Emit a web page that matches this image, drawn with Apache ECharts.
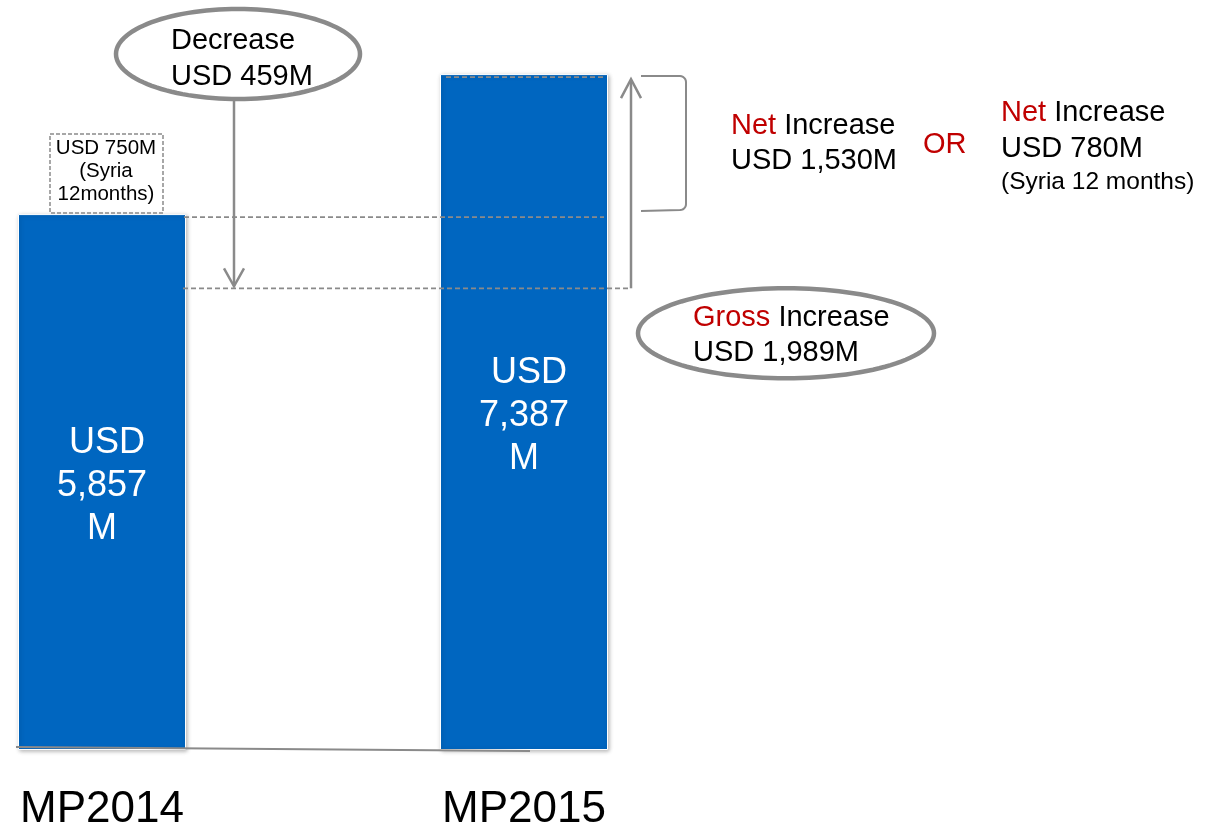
<!DOCTYPE html>
<html>
<head>
<meta charset="utf-8">
<script src="https://cdn.jsdelivr.net/npm/echarts@6/dist/echarts.min.js"></script>
<style>
  html, body { margin: 0; padding: 0; background: #ffffff; }
  #chart { width: 1205px; height: 829px; }
</style>
</head>
<body>
<div id="chart"></div>
<script>
// Plan budgets (USD millions)
const categories = ['MP2014', 'MP2015'];
const budgetValues = [5857, 7387];
const syriaShare = 750;
const decreaseAmount = 459;
const grossIncrease = 1989;
const netIncrease = 1530;
const netIncreaseSyria = 780;
// level from which the gross increase arrow rises
const arrowLevel = 5046;

const FONT = '"Liberation Sans", Arial, Helvetica, sans-serif';
const GREY = '#8a8a8a';
const RED = '#C00000';
const fmt = v => v.toLocaleString('en-US');

const chart = echarts.init(document.getElementById('chart'), null, { renderer: 'canvas' });

chart.setOption({
  animation: false,
  backgroundColor: '#ffffff',
  grid: { left: 102, right: 681, top: 18, bottom: 79, containLabel: false, outerBoundsMode: 'none' },
  xAxis: {
    type: 'category',
    data: categories,
    boundaryGap: false,
    axisLine: { show: false },
    axisTick: { show: false },
    axisLabel: { fontFamily: FONT, fontSize: 44, color: '#000', margin: 38 }
  },
  yAxis: { type: 'value', min: 0, max: 8000, show: false },
  series: [{
    type: 'bar',
    data: budgetValues,
    barWidth: 168,
    clip: false,
    itemStyle: {
      color: '#0066C0',
      borderColor: '#ffffff',
      borderWidth: 1,
      shadowBlur: 4,
      shadowColor: 'rgba(0,0,0,0.28)',
      shadowOffsetX: 1,
      shadowOffsetY: 1
    },
    label: {
      show: true,
      position: 'inside',
      offset: [0, 4],
      fontFamily: FONT,
      fontSize: 36,
      lineHeight: 43,
      color: '#ffffff',
      formatter: p => ' USD\n' + fmt(p.value) + '\nM'
    }
  }]
});

// Annotations positioned through the chart's own scales
const pt = (i, v) => chart.convertToPixel({ seriesIndex: 0 }, [i, v]);
const x0 = pt(0, 0)[0];
const x1 = pt(1, 0)[0];
const yBase = pt(0, 0)[1];
const yTop0 = pt(0, budgetValues[0])[1];
const yTop1 = pt(1, budgetValues[1])[1];
const yArrow = pt(0, arrowLevel)[1];

const dashed = { stroke: GREY, lineWidth: 1.8, lineDash: [5, 3], fill: null };
const solid = { stroke: GREY, lineWidth: 2.5, fill: null };

function text(x, y, str, size, lh, extra) {
  return {
    type: 'text', x: x, y: y, z: 20,
    style: Object.assign({
      text: str, fontFamily: FONT, fontSize: size, lineHeight: lh,
      fill: '#000', verticalAlign: 'top'
    }, extra || {})
  };
}

// outline of an ellipse as a closed polygon
function ellipse(cx, cy, rx, ry) {
  const pts = [];
  for (let k = 0; k < 120; k++) {
    const a = (k / 120) * Math.PI * 2;
    pts.push([cx + rx * Math.cos(a), cy + ry * Math.sin(a)]);
  }
  return { type: 'polygon', z: 18, shape: { points: pts },
    style: { stroke: GREY, lineWidth: 4.5, fill: '#ffffff' } };
}

// right-hand bracket with softened corners
function bracket(xa, xb, ya, yb) {
  const r = 6;
  const pts = [[xa, ya]];
  for (let k = 0; k <= 6; k++) {
    const a = -Math.PI / 2 + (k / 6) * (Math.PI / 2);
    pts.push([xb - r + r * Math.cos(a), ya + r + r * Math.sin(a)]);
  }
  for (let k = 0; k <= 6; k++) {
    const a = (k / 6) * (Math.PI / 2);
    pts.push([xb - r + r * Math.cos(a), yb - r + r * Math.sin(a)]);
  }
  pts.push([xa, yb + 1]);
  return { type: 'polyline', z: 15, shape: { points: pts },
    style: { stroke: GREY, lineWidth: 2, fill: null } };
}

const TXT = 29;
const rich = { r: { fill: RED, fontFamily: FONT, fontSize: TXT } };

const downX = x0 + 132;
const upX = x1 + 107;

const elements = [
  // baseline under both bars
  { type: 'line', z: 15, shape: { x1: x0 - 86, y1: yBase - 3, x2: x1 + 6, y2: yBase + 1 },
    style: { stroke: GREY, lineWidth: 2 } },
  // Syria share box above MP2014
  { type: 'rect', z: 15, shape: { x: x0 - 52, y: yTop0 - 80, width: 113, height: 79 },
    style: { stroke: GREY, lineWidth: 1.5, lineDash: [4, 2], fill: null } },
  text(x0 + 4, yTop0 - 77, 'USD ' + fmt(syriaShare) + 'M\n(Syria\n12months)', 20.5, 23,
    { align: 'center' }),
  // dashed level lines
  { type: 'line', z: 15, shape: { x1: x0 + 82, y1: yTop0 + 3, x2: x1 + 80, y2: yTop0 + 3 }, style: dashed },
  { type: 'line', z: 15, shape: { x1: x0 + 81, y1: yArrow, x2: upX, y2: yArrow }, style: dashed },
  { type: 'line', z: 15, shape: { x1: x1 - 78, y1: yTop1 + 3, x2: x1 + 82, y2: yTop1 + 3 }, style: dashed },
  // decrease arrow (down)
  { type: 'line', z: 15, shape: { x1: downX, y1: 100, x2: downX, y2: yArrow - 2 }, style: solid },
  { type: 'polyline', z: 15, shape: { points: [[downX - 10, yArrow - 20], [downX, yArrow - 2], [downX + 10, yArrow - 20]] }, style: solid },
  // gross increase arrow (up)
  { type: 'line', z: 15, shape: { x1: upX, y1: yArrow, x2: upX, y2: yTop1 + 6 }, style: solid },
  { type: 'polyline', z: 15, shape: { points: [[upX - 10, yTop1 + 24], [upX, yTop1 + 5], [upX + 10, yTop1 + 24]] }, style: solid },
  // net increase bracket
  bracket(x1 + 117, x1 + 162, yTop1 + 2, yTop0 - 4),
  // decrease callout
  ellipse(x0 + 136, 54, 122, 45),
  text(x0 + 69, 23, 'Decrease\nUSD ' + decreaseAmount + 'M', TXT, 36),
  // gross increase callout
  ellipse(x1 + 262, yArrow + 45, 148, 45),
  text(x1 + 169, yArrow + 12, '{r|Gross} Increase\nUSD ' + fmt(grossIncrease) + 'M', TXT, 35, { rich: rich }),
  // net increase notes
  text(731, 108, '{r|Net} Increase\nUSD ' + fmt(netIncrease) + 'M', TXT, 35, { rich: rich }),
  text(923, 130, 'OR', TXT, 30, { fill: RED }),
  text(1001, 95, '{r|Net} Increase\nUSD ' + fmt(netIncreaseSyria) + 'M', TXT, 36, { rich: rich }),
  text(1001, 169, '(Syria 12 months)', 24.5, 26)
];

chart.setOption({ graphic: { elements: elements } });
</script>
</body>
</html>
